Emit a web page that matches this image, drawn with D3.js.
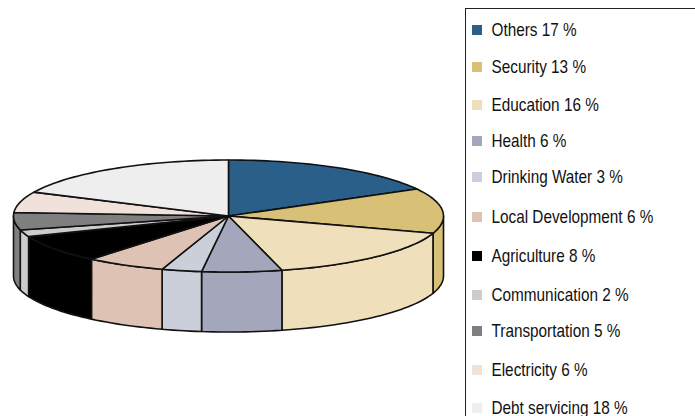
<!DOCTYPE html>
<html>
<head>
<meta charset="utf-8">
<script src="https://cdn.jsdelivr.net/npm/d3@7"></script>
<style>
html, body { margin: 0; padding: 0; background: #fff; overflow: hidden; }
svg { display: block; }
</style>
</head>
<body>
<div id="chart"></div>
<script>
const categories = ["Others", "Security", "Education", "Health", "Drinking Water", "Local Development", "Agriculture", "Communication", "Transportation", "Electricity", "Debt servicing"];
const shares = [17, 13, 16, 6, 3, 6, 8, 2, 5, 6, 18];
const colours = ["#2a5f8a", "#d9c077", "#efdfbb", "#a4a6bb", "#cbcfd9", "#dec3b4", "#000000", "#cccccc", "#7f7f7f", "#f0e2da", "#eeeeee"];

// legend rows are not evenly spaced in the original
const legendRows = [30, 67, 105, 141, 177, 217, 256, 295, 331, 370, 408];

const width = 695, height = 416;
const cx = 228.5, cy = 216, rx = 215, ry = 56, depth = 60;

const svg = d3.select("#chart")
    .append("svg")
    .attr("width", width)
    .attr("height", height);

const x = d3.scaleLinear().domain([-1, 1]).range([cx - rx, cx + rx]);
const y = d3.scaleLinear().domain([-1, 1]).range([cy - ry, cy + ry]);

const slices = d3.pie().sort(null).value(d => d)(shares)
    .map((s, i) => ({ ...s, colour: colours[i] }));

const line = d3.line();

function rim (a, drop) {
    return [x(Math.sin(a)), y(-Math.cos(a)) + drop];
}

function arcPoints (a0, a1, drop) {
    const n = Math.max(2, Math.ceil((a1 - a0) / 0.03));
    return d3.range(n + 1).map(i => rim(a0 + (a1 - a0) * i / n, drop));
}

// side walls, only the part facing the viewer
const sideFrom = Math.PI / 2, sideTo = Math.PI * 3 / 2;
const walls = slices.filter(s => s.endAngle > sideFrom && s.startAngle < sideTo);

svg.selectAll("path.wall")
    .data(walls)
    .enter()
    .append("path")
    .attr("class", "wall")
    .attr("d", function (s) {
        const a0 = Math.max(s.startAngle, sideFrom);
        const a1 = Math.min(s.endAngle, sideTo);
        return line(arcPoints(a0, a1, 0).concat(arcPoints(a0, a1, depth).reverse())) + "Z";
    })
    .attr("fill", s => s.colour)
    .attr("stroke", "#111")
    .attr("stroke-width", 1.6)
    .attr("stroke-linejoin", "round");

svg.selectAll("path.top")
    .data(slices)
    .enter()
    .append("path")
    .attr("class", "top")
    .attr("d", s => line([[x(0), y(0)]].concat(arcPoints(s.startAngle, s.endAngle, 0))) + "Z")
    .attr("fill", s => s.colour)
    .attr("stroke", "#111")
    .attr("stroke-width", 1.6)
    .attr("stroke-linejoin", "round");

// legend box runs off the right and bottom of the picture
svg.append("rect")
    .attr("x", 465.5)
    .attr("y", 8.5)
    .attr("width", 260)
    .attr("height", 440)
    .attr("fill", "#fff")
    .attr("stroke", "#222")
    .attr("stroke-width", 1);

const rows = svg.selectAll("g.row")
    .data(categories)
    .enter()
    .append("g")
    .attr("class", "row")
    .attr("transform", (d, i) => `translate(0,${legendRows[i]})`);

rows.append("rect")
    .attr("x", 472)
    .attr("y", -5)
    .attr("width", 10)
    .attr("height", 10)
    .attr("fill", (d, i) => colours[i]);

// the original type is narrow and tall, so squeeze it sideways
rows.append("text")
    .attr("transform", "translate(491.5,6) scale(0.876,1)")
    .attr("font-family", "'Liberation Sans', Arial, sans-serif")
    .attr("font-size", 17.5)
    .attr("fill", "#111")
    .text((d, i) => `${d} ${shares[i]} %`);
</script>
</body>
</html>
